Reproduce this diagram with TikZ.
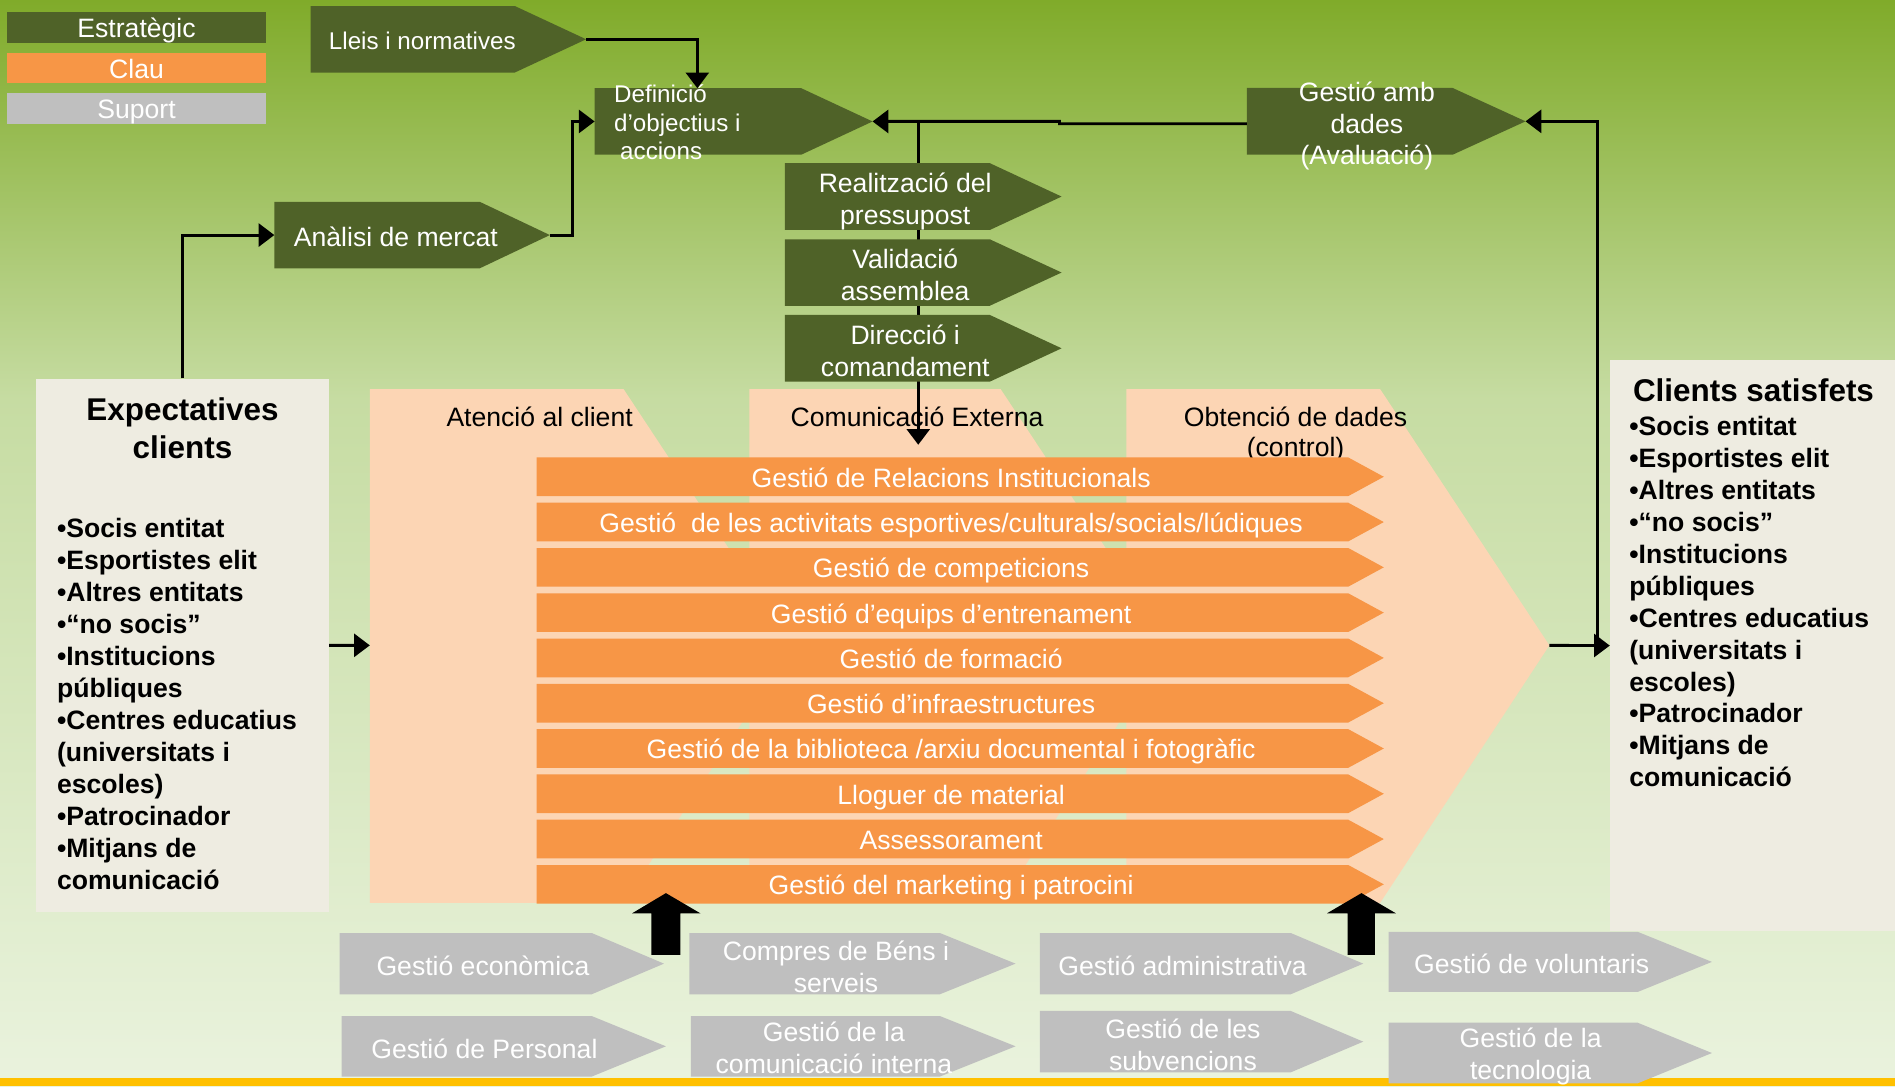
\documentclass[tikz,border=0pt]{standalone}
\usepackage{fontspec}
\setmainfont{Liberation Sans}
\usetikzlibrary{arrows.meta}
\definecolor{dkgreen}{HTML}{4F6228}
\definecolor{keyor}{HTML}{F79646}
\definecolor{supgray}{HTML}{BFBFBF}
\definecolor{beige}{HTML}{EEECE1}
\definecolor{peach}{HTML}{FCD5B4}
\definecolor{gold}{HTML}{FFC000}
\definecolor{bgtop}{HTML}{80AB2A}
\definecolor{bgmid}{HTML}{C6DCA2}
\definecolor{bgbot}{HTML}{EAF3DE}
\newcommand{\myhp}[7]{%
  \fill[#1] (#3,#4) -- (#5,#4) -- (#6,{(#4+#7)/2}) -- (#5,#7) -- (#3,#7) -- cycle;
  \coordinate (#2-tip) at (#6,{(#4+#7)/2});
  \coordinate (#2-w) at (#3,{(#4+#7)/2});
}
\newcommand{\orbar}[2]{%
  \pgfmathsetmacro\ytop{378.5+37.47*(#1-1)}%
  \pgfmathsetmacro\ybot{\ytop+32}%
  \myhp{keyor}{b#1}{444}{\ytop}{1115.6}{1145}{\ybot}%
  \node[wt] (bt#1) at (787,{\ytop+16.3}) {#2};%
}
\tikzset{
  conn/.style={line width=2.4pt, -{Triangle[width=19pt,length=13pt]}},
  wt/.style={text=white, inner sep=0pt, align=center, font=\fontsize{22}{26.5}\selectfont, text height=16pt, text depth=5pt, yshift=-2.8pt},
  two/.style={text height=42.5pt},
  bt/.style={wt, text=black},
  lst/.style={inner sep=0pt, align=left, font=\bfseries\fontsize{22}{26.45}\selectfont, text height=306.95pt, text depth=5pt, anchor=west, yshift=-2.5pt},
  ttl/.style={inner sep=0pt, align=center, font=\bfseries\fontsize{26}{31}\selectfont, text height=19pt, text depth=6pt, yshift=-2.8pt},
  legbox/.style={minimum width=214pt, minimum height=25.4pt, inner sep=0pt, text=white, font=\fontsize{22}{26}\selectfont, text height=18.8pt, text depth=2.2pt},
  cbox/.style={fill=beige, inner sep=0pt, anchor=north west}
}
\begin{document}
\begin{tikzpicture}[x=1pt,y=-1pt]
\useasboundingbox (0,0) rectangle (1568,899);
% background
\shade[top color=bgtop, bottom color=bgmid] (0,0) rectangle (1568,330);
\shade[top color=bgmid, bottom color=bgbot] (0,329.5) rectangle (1568,899);
\fill[gold] (0,892) rectangle (1568,899);
% legend
\node[legbox, fill=dkgreen] (legS) at (113,22.6) {Estratègic};
\node[legbox, fill=keyor] (legK) at (113,56.3) {Clau};
\node[legbox, fill=supgray] (legP) at (113,89.9) {Suport};
% client boxes
\node[cbox, minimum width=242pt, minimum height=441.5pt] (exp) at (30,313) {};
\node[ttl, text height=50pt] (expT) at (151,354.5) {Expectatives\\clients};
\node[lst] (expL) at (47,582.2) {•Socis entitat\\•Esportistes elit\\•Altres entitats\\•“no socis”\\•Institucions\\públiques\\•Centres educatius\\(universitats i\\escoles)\\•Patrocinador\\•Mitjans de\\comunicació};
\node[cbox, minimum width=236pt, minimum height=472pt] (cs) at (1332,298) {};
\node[ttl, anchor=west] (csT) at (1351,322.5) {Clients satisfets};
\node[lst, font=\bfseries\fontsize{22}{26.4}\selectfont, text height=306.4pt] (csL) at (1348,497.8) {•Socis entitat\\•Esportistes elit\\•Altres entitats\\•“no socis”\\•Institucions\\públiques\\•Centres educatius\\(universitats i\\escoles)\\•Patrocinador\\•Mitjans de\\comunicació};
% peach process shapes
\fill[peach] (306,322) -- (516,322) -- (656,534) -- (516,747) -- (306,747) -- cycle;
\fill[peach] (620,322) -- (828,322) -- (968,534) -- (828,747) -- (620,747) -- cycle;
\fill[peach] (932,322) -- (1142,322) -- (1282,534) -- (1142,747) -- (932,747) -- cycle;
\coordinate (pw) at (306,534);
\coordinate (ptip) at (1282,534);
\node[bt] (tabA) at (446.5,344.3) {Atenció al client};
\node[bt] (tabC) at (758.8,344.3) {Comunicació Externa};
\node[bt, font=\fontsize{22}{25.5}\selectfont, text height=41.5pt] (tabO) at (1072,357) {Obtenció de dades\\(control)};
% vertical connector behind the strategic column
\coordinate (jn) at (759.8,100.5);
\coordinate (ceIn) at (759.8,368);
\draw[conn] (jn) -- (ceIn);
% strategic boxes
\myhp{dkgreen}{lleis}{257}{5}{426}{485}{60}
\node[wt, anchor=west, font=\fontsize{20}{24}\selectfont, text height=14.5pt, text depth=4.5pt] (lleisT) at (272,33) {Lleis i normatives};
\myhp{dkgreen}{def}{492}{73}{663}{722}{128}
\node[wt, align=left, anchor=west, font=\fontsize{20}{23.4}\selectfont, text height=61.3pt, text depth=4.5pt] (defT) at (508,100.7) {Definició\\d’objectius i\\\hspace*{5pt}accions};
\coordinate (defN) at (577,73);
\myhp{dkgreen}{ana}{227}{167}{397}{455}{222}
\node[wt, anchor=west] (anaT) at (243,195.5) {Anàlisi de mercat};
\myhp{dkgreen}{real}{649.5}{135}{819}{878.4}{190.3}
\node[wt, two] (realT) at (749,164.2) {Realització del\\pressupost};
\myhp{dkgreen}{val}{649.5}{198}{819}{878.4}{253}
\node[wt, two] (valT) at (749,226.9) {Validació\\assemblea};
\myhp{dkgreen}{dir}{649.5}{260.6}{819}{878.4}{315.8}
\node[wt, two] (dirT) at (749,289.6) {Direcció i\\comandament};
\myhp{dkgreen}{gad}{1031.7}{72.8}{1202}{1262.3}{128}
\node[wt, font=\fontsize{22}{26.2}\selectfont, text height=68.4pt] (gadT) at (1131,102) {Gestió amb\\dades\\(Avaluació)};
% connectors
\draw[conn] (lleis-tip) -| (defN);
\draw[conn] (ana-tip) -- ++(19,0) |- (def-w);
\draw[conn] (exp.north) |- (ana-w);
\draw[conn] ([yshift=-2pt]gad-w) -- ++(-155,0) -- ++(0,-2) -- (def-tip);
\draw[conn] (exp.east) -- (pw);
\draw[conn] (ptip) -- (cs.west);
\coordinate (br) at (1322,534);
\draw[conn] (br) |- (gad-tip);
% key process bars
\orbar{1}{Gestió de Relacions Institucionals}
\orbar{2}{Gestió\ \ de les activitats esportives/culturals/socials/lúdiques}
\orbar{3}{Gestió de competicions}
\orbar{4}{Gestió d’equips d’entrenament}
\orbar{5}{Gestió de formació}
\orbar{6}{Gestió d’infraestructures}
\orbar{7}{Gestió de la biblioteca /arxiu documental i fotogràfic}
\orbar{8}{Lloguer de material}
\orbar{9}{Assessorament}
\orbar{10}{Gestió del marketing i patrocini}
% support boxes
\myhp{supgray}{gecon}{281}{772}{489.6}{549.4}{822.7}
\myhp{supgray}{gcomp}{570.5}{772}{777.7}{840.3}{822.7}
\myhp{supgray}{gadm}{860.5}{772}{1068}{1128}{822.7}
\myhp{supgray}{gvol}{1149}{771}{1355}{1416.5}{820.8}
\myhp{supgray}{gpers}{282.7}{840.7}{489.6}{551}{890.8}
\myhp{supgray}{gcint}{571.6}{840.7}{777.7}{840.3}{890.8}
\myhp{supgray}{gsubv}{860.5}{836.5}{1068}{1128}{887.3}
\myhp{supgray}{gtec}{1149}{846.2}{1355}{1416.5}{896.4}
\node[wt] (tecon) at (399.6,798.5) {Gestió econòmica};
\node[wt, two] (tcomp) at (691.7,799.5) {Compres de Béns i\\serveis};
\node[wt] (tadm) at (978.5,798.5) {Gestió administrativa};
\node[wt] (tvol) at (1267.4,797.5) {Gestió de voluntaris};
\node[wt] (tpers) at (400.8,867.4) {Gestió de Personal};
\node[wt, two] (tcint) at (690,867) {Gestió de la\\comunicació interna};
\node[wt, two] (tsubv) at (978.8,864) {Gestió de les\\subvencions};
\node[wt, two] (ttec) at (1266.5,872) {Gestió de la\\tecnologia};
% block arrows
\fill[black] (539,790) -- (539,755.7) -- (523,755.7) -- (551,739) -- (579.5,755.7) -- (563,755.7) -- (563,790) -- cycle;
\fill[black] (1115,790) -- (1115,755.7) -- (1098,755.7) -- (1126.5,739) -- (1155,755.7) -- (1137.7,755.7) -- (1137.7,790) -- cycle;
\end{tikzpicture}
\end{document}
